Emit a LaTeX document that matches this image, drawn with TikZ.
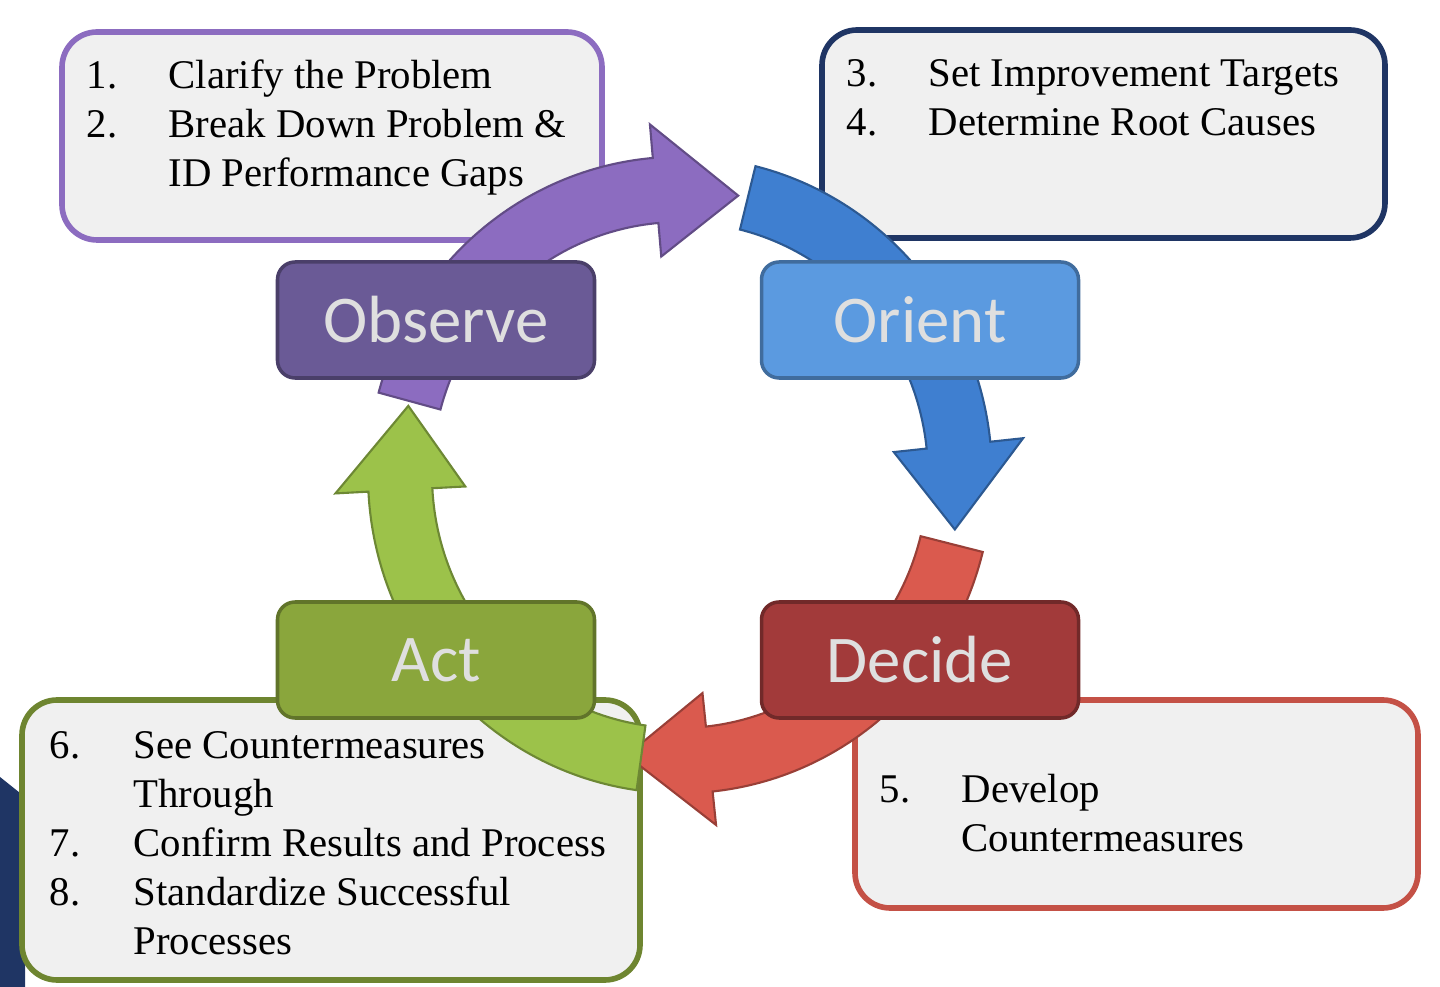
\documentclass[tikz,border=0pt]{standalone}
\usepackage{fontspec}
\setmainfont{Liberation Serif}
\newfontfamily\stagefont{Carlito}
\usetikzlibrary{positioning}
\definecolor{obsc}{HTML}{6A5A96}
\definecolor{oric}{HTML}{5B9AE0}
\definecolor{decc}{HTML}{A23A3A}
\definecolor{actc}{HTML}{8AA63C}
\definecolor{parrow}{HTML}{8C6CC0}
\definecolor{barrow}{HTML}{3F7FD0}
\definecolor{rarrow}{HTML}{DA5A4E}
\definecolor{garrow}{HTML}{9CC24A}
\definecolor{navyb}{HTML}{1F3564}

% curved block arrow: colour, start angle, end angle
\newcommand{\cyclearrow}[3]{%
  \pgfmathsetmacro{\hb}{#3+17}%
  \fill[#1, draw=#1!70!black, line width=0.6pt]
    (#2:3.12) arc[start angle=#2, end angle=\hb, radius=3.12]
    -- (\hb:3.45) -- (#3:2.8) -- (\hb:2.15)
    -- (\hb:2.48) arc[start angle=\hb, end angle=#2, radius=2.48] -- cycle;}

\tikzset{
  stage/.style={draw=#1!70!black, fill=#1, rounded corners=5pt, line width=1pt,
    minimum width=3.17cm, minimum height=1.16cm,
    font=\stagefont\fontsize{19}{22}\selectfont, text=gray!25},
  listbox/.style={draw=#1, fill=gray!12, rounded corners=10pt, line width=1.6pt},
  listtext/.style={anchor=north west, inner sep=0pt,
    font=\fontsize{11.6}{13.9}\selectfont}
}

\begin{document}
\begin{tikzpicture}
  \useasboundingbox (0,0) rectangle (14.4,9.87);
  \fill[navyb] (0,2.1) -- (0.25,1.9) -- (0.25,0) -- (0,0) -- cycle;

  % list boxes
  \draw[listbox=parrow] (0.62,7.47) rectangle (6.02,9.55);
  \draw[listbox=navyb] (8.22,7.49) rectangle (13.85,9.57);
  \draw[listbox=rarrow!90!black] (8.55,0.79) rectangle (14.18,2.87);
  \draw[listbox=actc!80!black] (0.22,0.07) rectangle (6.40,2.87);

  \node (obstext) [listtext] at (0.86,9.33) {\begin{tabular}{@{}p{0.82cm}@{}l@{}}
    1. & Clarify the Problem\\ 2. & Break Down Problem \&\\ & ID Performance Gaps\end{tabular}};
  \node (oritext) [listtext] at (8.46,9.35) {\begin{tabular}{@{}p{0.82cm}@{}l@{}}
    3. & Set Improvement Targets\\ 4. & Determine Root Causes\end{tabular}};
  \node (dectext) [listtext] at (8.79,2.19) {\begin{tabular}{@{}p{0.82cm}@{}l@{}}
    5. & Develop\\ & Countermeasures\end{tabular}};
  \node (acttext) [listtext] at (0.49,2.63) {\begin{tabular}{@{}p{0.84cm}@{}l@{}}
    6. & See Countermeasures\\ & Through\\ 7. & Confirm Results and Process\\
    8. & Standardize Successful\\ & Processes\end{tabular}};

  % cycle arrows
  \begin{scope}[shift={(6.8,5.12)}, yscale=1.02]
    \cyclearrow{barrow}{76}{-11}
    \cyclearrow{rarrow}{-14}{-101}
    \cyclearrow{garrow}{-98}{-194}
    \cyclearrow{parrow}{165}{78}
  \end{scope}

  % stage boxes
  \node (observe) [stage=obsc] at (4.36,6.67) {Observe};
  \node (orient) [stage=oric] at (9.20,6.67) {Orient};
  \node (act) [stage=actc] at (4.36,3.27) {Act};
  \node (decide) [stage=decc] at (9.20,3.27) {Decide};
\end{tikzpicture}
\end{document}
